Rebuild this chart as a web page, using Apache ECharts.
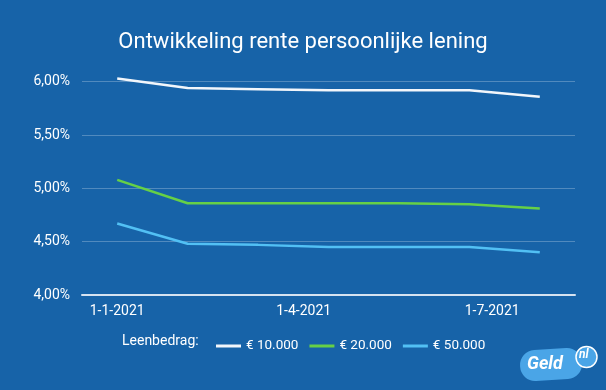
<!DOCTYPE html>
<html>
<head>
<meta charset="utf-8">
<script src="https://cdn.jsdelivr.net/npm/echarts@6/dist/echarts.min.js"></script>
<style>
html,body{margin:0;padding:0;background:#1763a8;}
#chart{width:606px;height:390px;}
</style>
</head>
<body>
<div id="chart"></div>
<script>
// Data
var dates = ['2021-01-01','2021-02-04','2021-03-10','2021-04-13','2021-05-17','2021-06-20','2021-07-24'];
var seriesNames = ['€ 10.000','€ 20.000','€ 50.000'];
var rate10000 = [6.03, 5.94, 5.93, 5.92, 5.92, 5.92, 5.86];
var rate20000 = [5.08, 4.86, 4.86, 4.86, 4.86, 4.85, 4.81];
var rate50000 = [4.67, 4.48, 4.47, 4.45, 4.45, 4.45, 4.40];
var tickDates = ['2021-01-01','2021-04-01','2021-07-01'];
var yTicks = [4.0, 4.5, 5.0, 5.5, 6.0];

function ts(s){ var p = s.split('-'); return Date.UTC(+p[0], +p[1]-1, +p[2]); }
function pairs(vals){ return dates.map(function(d,i){ return [ts(d), vals[i]]; }); }

var font = 'Roboto, "Noto Sans", sans-serif';
var chart = echarts.init(document.getElementById('chart'), null, {renderer:'canvas'});
var option = {
  backgroundColor: '#1763a8',
  animation: false,
  title: [{
    text: 'Ontwikkeling rente persoonlijke lening',
    left: 'center', top: 26,
    textStyle: {color:'#ffffff', fontSize:22, fontWeight:'normal', fontFamily:font}
  },{
    text: 'Leenbedrag:',
    left: 117, top: 329,
    textStyle: {color:'#ffffff', fontSize:14, fontWeight:'normal', fontFamily:font}
  }],
  legend: {
    data: seriesNames,
    left: 211, top: 334,
    itemWidth: 25, itemHeight: 3, itemGap: 11,
    icon: 'rect',
    textStyle: {color:'#ffffff', fontSize:13.5, fontFamily:font}
  },
  grid: {left: 82, right: 31, top: 81.7, bottom: 95, containLabel:false},
  xAxis: {
    type: 'value',
    min: ts('2020-12-15'), max: ts('2021-08-10'),
    axisLine: {show:true, lineStyle:{color:'#d6e3f1', width:2}},
    axisTick: {show:false},
    splitLine: {show:false},
    axisLabel: {
      customValues: tickDates.map(ts),
      color:'#ffffff', fontSize:14, fontFamily:font, margin:9,
      formatter: function(v){ var d=new Date(v); return d.getUTCDate()+'-'+(d.getUTCMonth()+1)+'-'+d.getUTCFullYear(); }
    }
  },
  yAxis: {
    type: 'value', min: yTicks[0], max: yTicks[yTicks.length-1], interval: 0.5,
    axisLine: {show:false}, axisTick:{show:false},
    splitLine: {lineStyle:{color:'rgba(255,255,255,0.25)', width:1}},
    axisLabel: {
      color:'#ffffff', fontSize:14, fontFamily:font, margin:12,
      formatter: function(v){ return v.toFixed(2).replace('.', ',') + '%'; }
    }
  },
  series: [
    {name: seriesNames[0], type:'line', data: pairs(rate10000), symbol:'none', clip:false,
     lineStyle:{color:'#f2f6fb', width:2.5}, itemStyle:{color:'#f2f6fb'}},
    {name: seriesNames[1], type:'line', data: pairs(rate20000), symbol:'none', clip:false,
     lineStyle:{color:'#66d046', width:2.5}, itemStyle:{color:'#66d046'}},
    {name: seriesNames[2], type:'line', data: pairs(rate50000), symbol:'none', clip:false,
     lineStyle:{color:'#52c0f4', width:2.5}, itemStyle:{color:'#52c0f4'}}
  ],
  graphic: [
    {type:'rect', shape:{x:520, y:349, width:62, height:31, r:15}, rotation:0.06, originX:551, originY:364,
     style:{fill:'#4aa5e7'}, z:10},
    {type:'circle', shape:{cx:586.5, cy:357, r:10.5}, style:{fill:'#4aa5e7', stroke:'#ffffff', lineWidth:1.5}, z:10},
    {type:'text', x:527, y:355, style:{text:'Geld', fill:'#ffffff', font:'italic bold 18px Roboto, sans-serif'}, z:11},
    {type:'text', x:579, y:349, style:{text:'nl', fill:'#ffffff', font:'italic bold 12px Roboto, sans-serif'}, z:11}
  ]
};
chart.setOption(option);
</script>
</body>
</html>
